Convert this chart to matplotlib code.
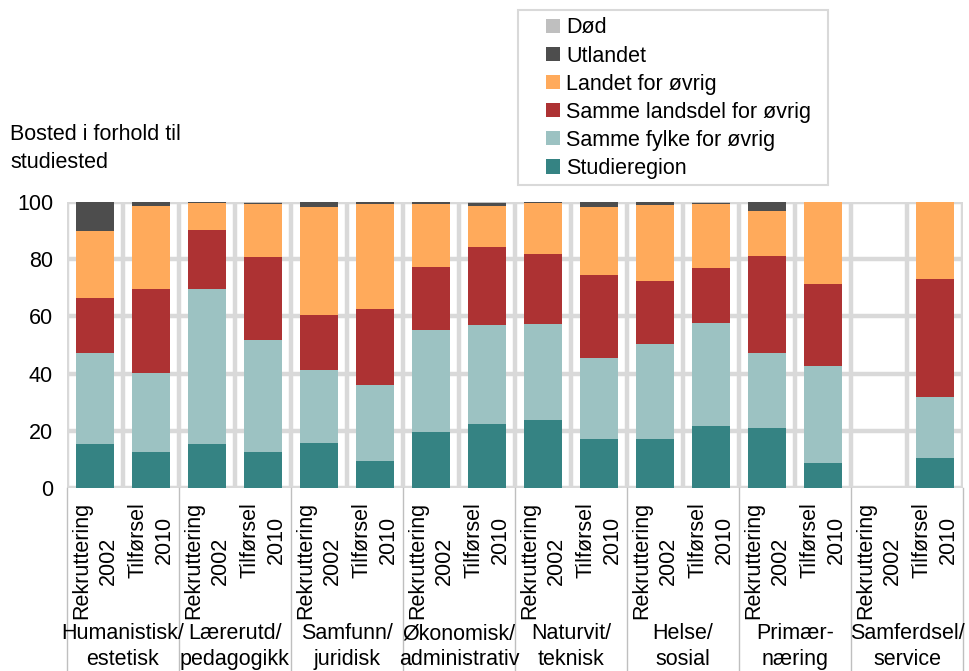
import matplotlib.pyplot as plt
import matplotlib.transforms as mtransforms
from matplotlib.patches import Rectangle
import numpy as np

plt.rcParams['font.family'] = ['Liberation Sans', 'DejaVu Sans']

groups = ["Humanistisk/\nestetisk", "Lærerutd/\npedagogikk", "Samfunn/\njuridisk",
          "Økonomisk/\nadministrativ", "Naturvit/\nteknisk", "Helse/\nsosial",
          "Primær-\nnæring", "Samferdsel/\nservice"]
bar_labels = ["Rekruttering\n2002", "Tilførsel\n2010"] * 8

# values per bar (percent), 16 bars
studieregion = [15.5, 12.6, 15.4, 12.6, 15.6, 9.3, 19.5, 22.5, 23.8, 17.2, 17.1, 21.8, 21.0, 8.9, 0, 10.6]
samme_fylke = [31.7, 27.6, 54.2, 39.0, 25.7, 26.7, 35.6, 34.6, 33.4, 28.3, 33.1, 35.9, 26.1, 33.8, 0, 21.3]
samme_landsdel = [19.4, 29.4, 20.5, 29.3, 19.3, 26.5, 22.1, 27.3, 24.6, 28.9, 22.2, 19.1, 34.1, 28.5, 0, 41.1]
landet = [23.4, 29.1, 9.4, 18.3, 37.8, 36.7, 22.1, 14.3, 17.7, 23.7, 26.5, 22.4, 15.8, 28.8, 0, 27.0]
utlandet = [10.0, 1.3, 0.5, 0.5, 1.6, 0.8, 0.7, 1.0, 0.5, 1.9, 1.1, 0.4, 3.0, 0, 0, 0]
dod = [0, 0, 0, 0.3, 0, 0, 0, 0.3, 0, 0, 0, 0.4, 0, 0, 0, 0]

series = [("Studieregion", studieregion, "#358383"),
          ("Samme fylke for øvrig", samme_fylke, "#9CC2C2"),
          ("Samme landsdel for øvrig", samme_landsdel, "#AD3233"),
          ("Landet for øvrig", landet, "#FFAA5B"),
          ("Utlandet", utlandet, "#4D4D4D"),
          ("Død", dod, "#BFBFBF")]

fs = 15.5
fig = plt.figure(figsize=(9.69, 6.71), dpi=100)
ax = fig.add_axes([0.0691, 0.2727, 0.9247, 0.4263])

x = np.arange(len(bar_labels))
bottom = np.zeros(len(x))
handles = []
for name, vals, col in series:
    vals = np.array(vals)
    b = ax.bar(x, vals, 0.68, bottom=bottom, color=col, zorder=3, label=name)
    handles.append(b)
    bottom += vals

ax.set_xlim(-0.5, 15.5)
ax.set_ylim(0, 100)
ax.set_yticks(range(0, 101, 20))
for y in range(0, 101, 20):
    ax.axhline(y, color="#D9D9D9", lw=3.2, zorder=1)
for xv in np.arange(-0.5, 16, 1):
    ax.axvline(xv, color="#D9D9D9", lw=3.2, zorder=1)
for s in ax.spines.values():
    s.set_visible(False)
ax.tick_params(axis="both", length=0, labelsize=fs)
ax.tick_params(axis="y", pad=10)
ax.set_xticks(x)
ax.set_xticklabels(bar_labels, rotation=90, va="top", ha="center",
                   multialignment="center", fontsize=fs, linespacing=1.35)
ax.tick_params(axis="x", pad=10)

trans = mtransforms.blended_transform_factory(ax.transData, fig.transFigure)
for k in range(9):
    xv = -0.5 + 2 * k
    ax.plot([xv, xv], [0, 0.2727], color="#BFBFBF", lw=1, transform=trans, clip_on=False)
for k, g in enumerate(groups):
    ax.text(2 * k + 0.5, 0.036, g, transform=trans, ha="center", va="center",
            fontsize=fs, linespacing=1.3)

fig.text(0.0103, 0.779, "Bosted i forhold til\nstudiested", fontsize=fs,
         ha="left", va="center", linespacing=1.45)

# legend box drawn separately for the wide left padding
fig.patches.append(Rectangle((0.5346, 0.7243), 0.32, 0.2608, transform=fig.transFigure,
                             facecolor="white", edgecolor="#D9D9D9", lw=1.5))
leg = fig.legend(handles[::-1], [s[0] for s in series][::-1], loc="upper left",
                 bbox_to_anchor=(0.563, 0.974), fontsize=fs, frameon=False,
                 labelspacing=0.33, handlelength=0.65, handleheight=0.65,
                 handletextpad=0.3, borderpad=0, borderaxespad=0)

fig.savefig("out.png", dpi=100)
